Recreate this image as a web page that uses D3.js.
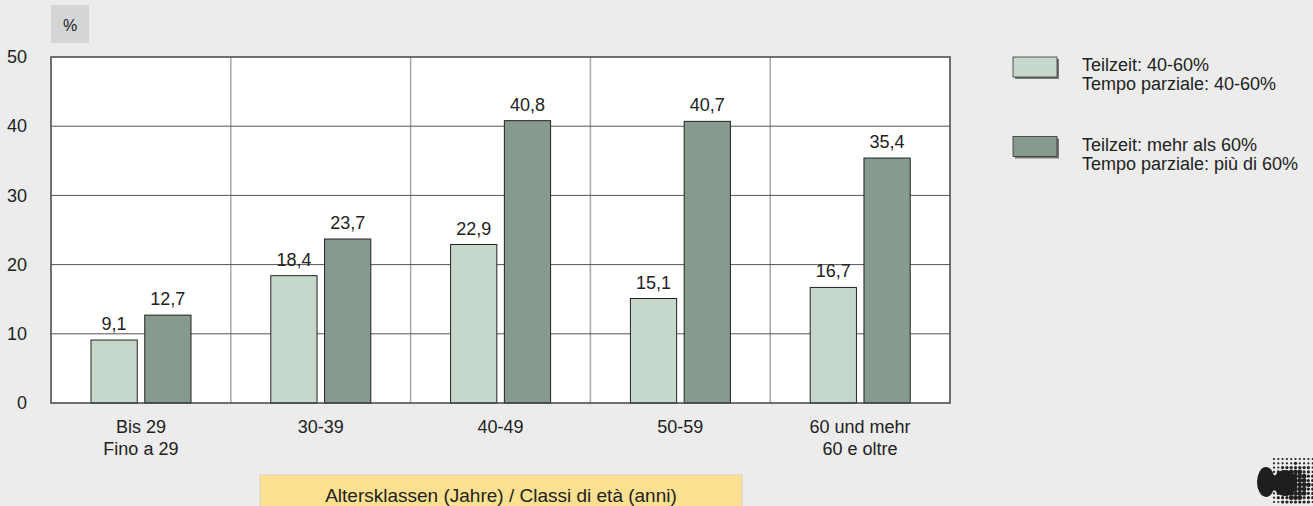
<!DOCTYPE html>
<html><head><meta charset="utf-8">
<script src="https://cdn.jsdelivr.net/npm/d3@7"></script>
<style>
html,body{margin:0;padding:0;background:#ebeceb;}
svg{display:block;font-family:"Liberation Sans",Arial,sans-serif;}
</style></head>
<body>
<svg id="c" width="1313" height="506"></svg>
<script>
const categories = [["Bis 29","Fino a 29"],["30-39"],["40-49"],["50-59"],["60 und mehr","60 e oltre"]];
const seriesNames = [["Teilzeit: 40-60%","Tempo parziale: 40-60%"],["Teilzeit: mehr als 60%","Tempo parziale: più di 60%"]];
const series1 = [9.1, 18.4, 22.9, 15.1, 16.7];
const series2 = [12.7, 23.7, 40.8, 40.7, 35.4];
const yTicks = [0, 10, 20, 30, 40, 50];
const colors = ["#c6d8cc", "#879a8e"];
const xTitle = "Altersklassen (Jahre) / Classi di età (anni)";

const FS = 18;
const svg = d3.select("#c");
const L = 51, R = 950, T = 57, B = 403;
const idx = categories.map((d,i)=>i);
const x0 = d3.scaleBand().domain(idx).range([L,R]).padding(0);
const x1 = d3.scaleBand().domain([0,1]).range([40,140]).paddingInner(0.14);
const y = d3.scaleLinear().domain([0,50]).range([B,T]);
const fmt = v => d3.format(".1f")(v).replace(".", ",");

// % box
svg.append("rect").attr("x",51).attr("y",5).attr("width",38).attr("height",38).attr("fill","#d4d5d7");
svg.append("text").attr("x",70).attr("y",31).attr("text-anchor","middle").attr("font-size",16).attr("fill","#222").text("%");

// plot background
svg.append("rect").attr("x",L).attr("y",T).attr("width",R-L).attr("height",B-T).attr("fill","#fff");

// vertical grid
svg.append("g").selectAll("line").data(idx.slice(1)).join("line")
  .attr("x1",d=>x0(d)).attr("x2",d=>x0(d)).attr("y1",T).attr("y2",B)
  .attr("stroke","#a8a8a8").attr("stroke-width",1.5);
// horizontal grid
svg.append("g").selectAll("line").data(yTicks.slice(1,-1)).join("line")
  .attr("x1",L).attr("x2",R).attr("y1",d=>y(d)).attr("y2",d=>y(d))
  .attr("stroke","#555").attr("stroke-width",1);

// y axis labels
const yAxis = d3.axisLeft(y).tickValues(yTicks).tickSize(0).tickPadding(0).tickFormat(d3.format("d"));
const ya = svg.append("g").attr("transform","translate(27,0)").call(yAxis);
ya.select(".domain").remove();
ya.selectAll("text").attr("font-size",FS).attr("fill","#222").attr("font-family","Liberation Sans, Arial, sans-serif");

// bars
const data = idx.map(i=>[series1[i], series2[i]]);
const groups = svg.append("g").selectAll("g").data(data).join("g")
  .attr("transform",(d,i)=>`translate(${x0(i)},0)`);
groups.selectAll("rect").data(d=>d).join("rect")
  .attr("x",(d,j)=>x1(j)).attr("width",x1.bandwidth())
  .attr("y",d=>y(d)).attr("height",d=>y(0)-y(d))
  .attr("fill",(d,j)=>colors[j]).attr("stroke","#222").attr("stroke-width",1);
groups.selectAll("text").data(d=>d).join("text")
  .attr("x",(d,j)=>x1(j)+x1.bandwidth()/2).attr("y",d=>y(d)-10)
  .attr("text-anchor","middle").attr("font-size",FS).attr("fill","#222").text(d=>fmt(d));

// plot border
svg.append("rect").attr("x",L).attr("y",T).attr("width",R-L).attr("height",B-T)
  .attr("fill","none").attr("stroke","#444").attr("stroke-width",1.5);

// x labels
const xl = svg.append("g").selectAll("text").data(categories).join("text")
  .attr("x",(d,i)=>x0(i)+x0.bandwidth()/2).attr("y",433)
  .attr("text-anchor","middle").attr("font-size",FS).attr("fill","#222");
xl.selectAll("tspan").data(d=>d).join("tspan")
  .attr("x",function(){return this.parentNode.getAttribute("x");})
  .attr("dy",(d,k)=>k===0?0:22).text(d=>d);

// x title box
svg.append("rect").attr("x",260).attr("y",475).attr("width",482).attr("height",40)
  .attr("fill","#fde190").attr("stroke","#d9d3bd");
svg.append("text").attr("x",501).attr("y",502).attr("text-anchor","middle")
  .attr("font-size",19).attr("fill","#222").text(xTitle);

// legend
const lg = svg.append("g").selectAll("g").data(seriesNames).join("g")
  .attr("transform",(d,i)=>`translate(1013,${57+i*79.5})`);
lg.append("rect").attr("x",2).attr("y",2).attr("width",44).attr("height",20).attr("fill","#777");
lg.append("rect").attr("width",44).attr("height",20).attr("fill",(d,i)=>colors[i]).attr("stroke","#333").attr("stroke-width",0.8);
const lt = lg.append("text").attr("x",69).attr("y",14).attr("font-size",FS).attr("fill","#222");
lt.selectAll("tspan").data(d=>d).join("tspan").attr("x",69).attr("dy",(d,k)=>k===0?0:19).text(d=>d);

// logo (halftone dots)
const logo = svg.append("g");
const dots = [];
for (let gx=1274; gx<=1313; gx+=4.3) for (let gy=459; gy<=506; gy+=4.3) dots.push([gx,gy]);
logo.selectAll("circle.d").data(dots).join("circle").attr("class","d")
  .attr("cx",d=>d[0]).attr("cy",d=>d[1])
  .attr("r",d=>{const dx=d[0]-1295, dy=d[1]-485; const r=Math.sqrt(dx*dx+dy*dy); return r<14?2.4:(r<22?1.6:1.1);})
  .attr("fill","#222");
logo.append("ellipse").attr("cx",1266).attr("cy",482).attr("rx",9).attr("ry",15).attr("fill","#1e1e1e");
logo.append("ellipse").attr("cx",1285).attr("cy",483).attr("rx",12).attr("ry",13).attr("fill","#1e1e1e");
</script>
</body></html>
